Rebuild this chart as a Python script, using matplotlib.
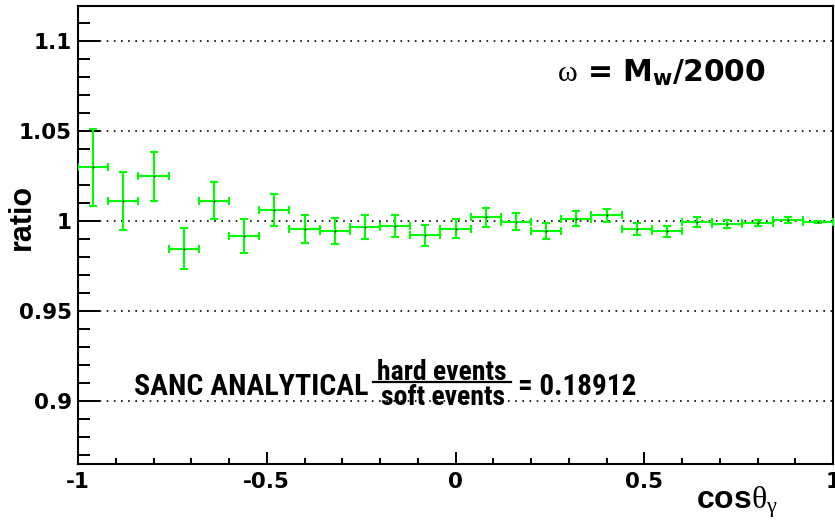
import matplotlib
matplotlib.use("Agg")
import matplotlib.pyplot as plt
from matplotlib.ticker import MultipleLocator, FixedLocator
from matplotlib.lines import Line2D

# --- data: ratio of hard to soft events per cos(theta_gamma) bin ---
bin_centers = [-0.96, -0.88, -0.80, -0.72, -0.64, -0.56, -0.48, -0.40, -0.32,
               -0.24, -0.16, -0.08, 0.00, 0.08, 0.16, 0.24, 0.32, 0.40,
               0.48, 0.56, 0.64, 0.72, 0.80, 0.88, 0.96]
bin_half_width = 0.04
ratio = [1.0300, 1.0113, 1.0251, 0.9848, 1.0115, 0.9917, 1.0061, 0.9959,
         0.9946, 0.9968, 0.9972, 0.9922, 0.9959, 1.0021, 0.9998, 0.9946,
         1.0015, 1.0033, 0.9959, 0.9944, 0.9994, 0.9983, 0.9991, 1.0009,
         0.9996]
ratio_err = [0.0214, 0.0159, 0.0137, 0.0115, 0.0105, 0.0095, 0.0088, 0.0078,
             0.0072, 0.0068, 0.0062, 0.0058, 0.0054, 0.0051, 0.0048, 0.0045,
             0.0040, 0.0037, 0.0033, 0.0030, 0.0027, 0.0023, 0.0018, 0.0016,
             0.0006]
y_major_ticks = [0.90, 0.95, 1.00, 1.05, 1.10]
y_tick_labels = ["0.9", "0.95", "1", "1.05", "1.1"]
x_major_ticks = [-1, -0.5, 0, 0.5, 1]
x_tick_labels = ["-1", "-0.5", "0", "0.5", "1"]

plt.rcParams["mathtext.fontset"] = "custom"
plt.rcParams["mathtext.rm"] = "Liberation Serif"
plt.rcParams["mathtext.it"] = "Liberation Serif:italic"
plt.rcParams["mathtext.bf"] = "Liberation Sans:bold"
plt.rcParams["mathtext.sf"] = "DejaVu Sans:bold"

W, H = 835, 522
fig = plt.figure(figsize=(W / 100, H / 100), dpi=100)
L, R, T, B = 78, 833, 5.5, 464
ax = fig.add_axes([L / W, 1 - B / H, (R - L) / W, (B - T) / H])

ax.set_xlim(-1, 1)
ax.set_ylim(0.865, 1.12)

# dotted horizontal grid at the major y values
for yv in y_major_ticks:
    ax.axhline(yv, color="black", lw=1.2, linestyle=(0, (1.0, 3.3)), zorder=1)

green = "#00ff00"
ax.errorbar(bin_centers, ratio, xerr=bin_half_width, yerr=ratio_err,
            fmt="none", ecolor=green, elinewidth=1.5, capsize=2.9,
            capthick=1.5, zorder=3)
ax.plot(bin_centers, ratio, "o", ms=1.3, mew=0, color="black", zorder=4)

# axes frame and ticks
for s in ax.spines.values():
    s.set_linewidth(1.5)
    s.set_color("black")

ax.yaxis.set_major_locator(FixedLocator(y_major_ticks))
ax.yaxis.set_minor_locator(MultipleLocator(0.01))
ax.xaxis.set_major_locator(FixedLocator(x_major_ticks))
ax.xaxis.set_minor_locator(MultipleLocator(0.1))
ax.set_yticklabels(y_tick_labels)
ax.set_xticklabels(x_tick_labels)

ax.tick_params(axis="y", which="major", direction="in", length=15.8, width=1.4,
               pad=4.3, labelsize=15.5, right=False)
ax.tick_params(axis="y", which="minor", direction="in", length=8.6, width=1.4,
               right=False)
ax.tick_params(axis="x", which="major", direction="in", length=8.9, width=1.4,
               pad=5.8, labelsize=15.5, top=False)
ax.tick_params(axis="x", which="minor", direction="in", length=4.3, width=1.4,
               top=False)
for lab in ax.get_xticklabels() + ax.get_yticklabels():
    lab.set_fontfamily("DejaVu Sans")
    lab.set_fontweight("bold")


def axfrac(px, py):
    return (px - L) / (R - L), (B - py) / (B - T)


# axis titles
ax.set_ylabel("ratio", fontsize=22, fontweight="bold",
              fontfamily="Liberation Sans")
ax.yaxis.set_label_coords(*axfrac(22, 217))
ax.yaxis.label.set_verticalalignment("center")

xl_x, xl_y = axfrac(778, 508)
ax.text(xl_x, xl_y, r"$\mathbf{cos}\mathrm{\theta}_{\mathrm{\gamma}}$",
        transform=ax.transAxes, ha="right", va="baseline", fontsize=23,
        clip_on=False)

# annotation of the soft-photon cutoff
ox, oy = axfrac(557, 82)
ax.text(ox, oy, r"$\mathrm{\omega}$ = M$_{\mathsf{w}}$/2000",
        transform=ax.transAxes, ha="left", va="baseline", fontsize=21.5,
        fontweight="bold", fontfamily="DejaVu Sans")

# ratio of integrated hard to soft events, in a condensed face
cond = ["Roboto Condensed", "Liberation Sans Narrow", "Liberation Sans"]


def label(px, py, s, size, ha):
    x, y = axfrac(px, py)
    ax.text(x, y, s, transform=ax.transAxes, ha=ha, va="baseline",
            fontsize=size, fontweight="bold", fontfamily=cond)


label(368, 395, "SANC ANALYTICAL", 21.5, "right")
label(442, 380, "hard events", 20, "center")
label(443, 405, "soft events", 20, "center")
label(518, 395, "= 0.18912", 21, "left")
bx0, by = axfrac(373, 382)
bx1, _ = axfrac(511, 382)
ax.add_line(Line2D([bx0, bx1], [by, by], transform=ax.transAxes,
                   color="black", lw=1.6, zorder=5))

fig.savefig("out.png", dpi=100, facecolor="white")
